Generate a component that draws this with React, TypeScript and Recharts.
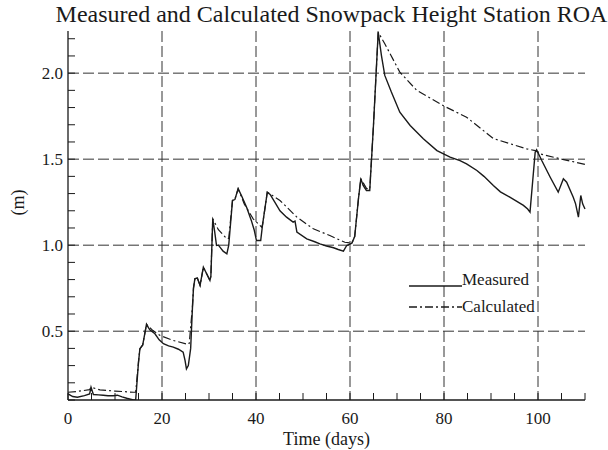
import { LineChart, Line, XAxis, YAxis, CartesianGrid, Legend } from "recharts";

// Measured snowpack height (m) vs time (days)
const measuredDays = [
  0, 1, 2, 3.5, 4.6, 4.9, 5.4, 6.5, 7.5, 8.5, 9.6, 10.5, 11.5, 12.5, 13.9, 14.4,
  15.0, 15.3, 15.9, 16.3, 16.7, 17.4, 18.5, 19.4, 20.3, 21.4, 22.4, 23.5, 24.5, 24.9,
  25.2, 25.6, 26.1, 26.5, 26.7, 27.0, 27.5, 28.1, 28.8, 29.5, 30.2, 30.4, 30.8, 31.2,
  31.6, 32.0, 33.0, 33.8, 34.2, 35.0, 35.5, 36.2, 36.9, 38.0, 39.0, 39.6, 40.1, 41.0,
  41.4, 42.4, 43.0, 44.0, 45.1, 46.5, 47.9, 48.3, 48.7, 50.8, 52.5, 53.6, 55.0, 56.5,
  57.5, 58.6, 59.3, 60.4, 61.0, 61.8, 62.3, 62.8, 63.5, 64.2, 65.0, 66.0, 66.7, 67.4,
  68.8, 70.6, 72.8, 75.6, 78.5, 81.3, 83.4, 84.8, 87.0, 88.5, 90.5, 92.0, 94.0, 95.5,
  96.9, 97.8, 98.3, 99.4, 99.7, 100.8, 102.6, 104.3, 105.4, 106.1, 107.5, 108.0, 108.6,
  109.1, 109.5, 110,
];
const measuredHeight = [
  0.136, 0.12, 0.116, 0.125, 0.135, 0.174, 0.132, 0.13, 0.128, 0.125, 0.125, 0.128, 0.118, 0.11, 0.1, 0.1,
  0.32, 0.398, 0.42, 0.48, 0.54, 0.508, 0.485, 0.45, 0.427, 0.415, 0.407, 0.395, 0.378, 0.33,
  0.281, 0.3, 0.4, 0.65, 0.75, 0.805, 0.81, 0.766, 0.872, 0.834, 0.795, 0.82, 1.153, 1.08,
  0.998, 1.0, 0.965, 0.95, 1.0, 1.26, 1.265, 1.328, 1.289, 1.22, 1.144, 1.09, 1.027, 1.027,
  1.12, 1.308, 1.295, 1.25, 1.2, 1.163, 1.134, 1.14, 1.076, 1.037, 1.02, 1.008, 0.995, 0.985,
  0.975, 0.965, 0.998, 1.012, 1.05, 1.27, 1.386, 1.347, 1.318, 1.318, 1.7, 2.238, 2.1, 1.987,
  1.89, 1.773, 1.696, 1.619, 1.55, 1.512, 1.492, 1.473, 1.434, 1.4, 1.347, 1.31, 1.279, 1.255,
  1.231, 1.21, 1.192, 1.541, 1.555, 1.492, 1.395, 1.308, 1.386, 1.366, 1.279, 1.24, 1.163,
  1.289, 1.24, 1.21,
];

// Calculated snowpack height (m)
const calcDays = [
  0, 2, 4.6, 4.9, 6.8, 10, 13.9, 14.4, 15.0, 15.3, 15.9, 16.3, 16.7, 18.0, 19.6, 22.4,
  25.6, 25.8, 26.5, 26.7, 27.0, 27.5, 28.1, 28.8, 29.5, 30.2, 30.4, 30.8, 32.0, 33.8,
  34.2, 35.0, 35.5, 36.2, 37.5, 39.4, 41.2, 41.4, 42.4, 45.1, 48.7, 52.2, 55.7, 58.9,
  60.4, 61.0, 61.8, 62.3, 63.5, 64.2, 65.0, 66.0, 67.4, 70.6, 74.2, 79.9, 84.8, 90.5,
  97.6, 99.4, 100.4, 104.7, 110,
];
const calcHeight = [
  0.145, 0.15, 0.16, 0.174, 0.159, 0.152, 0.145, 0.145, 0.32, 0.398, 0.42, 0.48, 0.54, 0.505, 0.475, 0.446,
  0.423, 0.43, 0.65, 0.75, 0.805, 0.81, 0.766, 0.872, 0.834, 0.795, 0.82, 1.153, 1.09, 1.037,
  1.04, 1.26, 1.265, 1.328, 1.24, 1.153, 1.105, 1.12, 1.308, 1.26, 1.163, 1.095, 1.056, 1.017,
  1.012, 1.05, 1.27, 1.386, 1.33, 1.325, 1.7, 2.238, 2.171, 2.006, 1.9, 1.81, 1.744, 1.62,
  1.56, 1.55, 1.531, 1.502, 1.47,
];

const xTicks = [0, 5, 10, 15, 20, 25, 30, 35, 40, 45, 50, 55, 60, 65, 70, 75, 80, 85, 90, 95, 100, 105, 110];
const xLabels = [0, 20, 40, 60, 80, 100];
const yTicks = [0.1, 0.2, 0.3, 0.4, 0.5, 0.6, 0.7, 0.8, 0.9, 1.0, 1.1, 1.2, 1.3, 1.4, 1.5, 1.6, 1.7, 1.8, 1.9, 2.0, 2.1, 2.2];
const yLabels = [0.5, 1.0, 1.5, 2.0];

const measured = measuredDays.map((t, i) => ({ t, h: measuredHeight[i] }));
const calculated = calcDays.map((t, i) => ({ t, h: calcHeight[i] }));

const FONT = "'Liberation Serif', 'Times New Roman', serif";
const INK = "#1a1a1a";
const TICK = 7;
const DASHDOT = "8 3 2 3";

const isLabelY = (v: number) => yLabels.some((l) => Math.abs(l - v) < 1e-6);

function BottomTick({ x, y, payload }: any) {
  const v = payload.value;
  return (
    <g>
      <line x1={x} x2={x} y1={y} y2={y - TICK} stroke={INK} />
      {xLabels.includes(v) && (
        <text x={x} y={y + 24} textAnchor="middle" fontFamily={FONT} fontSize={17} fill={INK}>
          {v}
        </text>
      )}
    </g>
  );
}

function TopTick({ x, y }: any) {
  return <line x1={x} x2={x} y1={y} y2={y + TICK} stroke={INK} />;
}

function LeftTick({ x, y, payload }: any) {
  const v = payload.value;
  return (
    <g>
      <line x1={x} x2={x + TICK} y1={y} y2={y} stroke={INK} />
      {isLabelY(v) && (
        <text x={x - 5} y={y + 6} textAnchor="end" fontFamily={FONT} fontSize={17} fill={INK}>
          {v.toFixed(1)}
        </text>
      )}
    </g>
  );
}

function RightTick({ x, y }: any) {
  return <line x1={x} x2={x - TICK} y1={y} y2={y} stroke={INK} />;
}

function LegendBox() {
  return (
    <svg width={140} height={56}>
      <line x1={4} x2={57} y1={18} y2={18} stroke={INK} strokeWidth={1.3} />
      <text x={57} y={17} fontFamily={FONT} fontSize={17} fill={INK}>Measured</text>
      <line x1={4} x2={57} y1={39} y2={39} stroke={INK} strokeWidth={1.3} strokeDasharray={DASHDOT} />
      <text x={57} y={44} fontFamily={FONT} fontSize={17} fill={INK}>Calculated</text>
    </svg>
  );
}

export default function App() {
  return (
    <div style={{ position: "absolute", left: 0, top: 0, width: 608, height: 450, background: "#fff" }}>
      <div
        style={{
          position: "absolute",
          left: 0,
          top: 0,
          width: 608,
          textAlign: "center",
          paddingLeft: 55,
          boxSizing: "border-box",
          fontFamily: FONT,
          fontSize: 24,
          lineHeight: "28px",
          color: INK,
          whiteSpace: "nowrap",
        }}
      >
        Measured and Calculated Snowpack Height Station ROA
      </div>
      <LineChart width={608} height={450} margin={{ top: 31, right: 23, bottom: 0, left: 0 }}>
        <CartesianGrid
          stroke="#333"
          strokeDasharray="11 4"
          horizontalValues={yLabels}
          verticalValues={[20, 40, 60, 80, 100]}
        />
        <XAxis
          dataKey="t"
          type="number"
          domain={[0, 110]}
          ticks={xTicks}
          interval={0}
          height={50}
          tickSize={0}
          tickMargin={0}
          tickLine={false}
          tick={<BottomTick />}
          axisLine={{ stroke: INK, strokeWidth: 1.3 }}
          allowDuplicatedCategory={false}
          label={{ value: "Time (days)", position: "insideBottom", offset: 5, fontFamily: FONT, fontSize: 18, fill: INK }}
        />
        <XAxis
          xAxisId="top"
          orientation="top"
          dataKey="t"
          type="number"
          domain={[0, 110]}
          ticks={xTicks}
          interval={0}
          height={0}
          tickSize={0}
          tickMargin={0}
          tickLine={false}
          tick={<TopTick />}
          axisLine={{ stroke: INK, strokeWidth: 1.3 }}
        />
        <YAxis
          type="number"
          domain={[0.1, 2.245]}
          allowDataOverflow
          ticks={yTicks}
          interval={0}
          width={68}
          tickSize={0}
          tickMargin={0}
          tickLine={false}
          tick={<LeftTick />}
          axisLine={{ stroke: INK, strokeWidth: 1.3 }}
          label={{ value: "(m)", angle: -90, position: "insideLeft", offset: 18, fontFamily: FONT, fontSize: 18, fill: INK }}
        />
        <YAxis
          yAxisId="right"
          orientation="right"
          type="number"
          domain={[0.1, 2.245]}
          ticks={yTicks}
          interval={0}
          width={0}
          tickSize={0}
          tickMargin={0}
          tickLine={false}
          tick={<RightTick />}
          axisLine={{ stroke: INK, strokeWidth: 1.3 }}
        />
        <Legend
          layout="horizontal"
          verticalAlign="middle"
          align="center"
          content={() => <LegendBox />}
          wrapperStyle={{ position: "absolute", left: 405, top: 268, width: 140, height: 56 }}
        />
        <Line
          data={measured}
          dataKey="h"
          name="Measured"
          type="linear"
          stroke={INK}
          strokeWidth={1.4}
          dot={false}
          isAnimationActive={false}
        />
        <Line
          data={calculated}
          dataKey="h"
          name="Calculated"
          type="linear"
          stroke={INK}
          strokeWidth={1.2}
          strokeDasharray={DASHDOT}
          dot={false}
          isAnimationActive={false}
        />
      </LineChart>
    </div>
  );
}
